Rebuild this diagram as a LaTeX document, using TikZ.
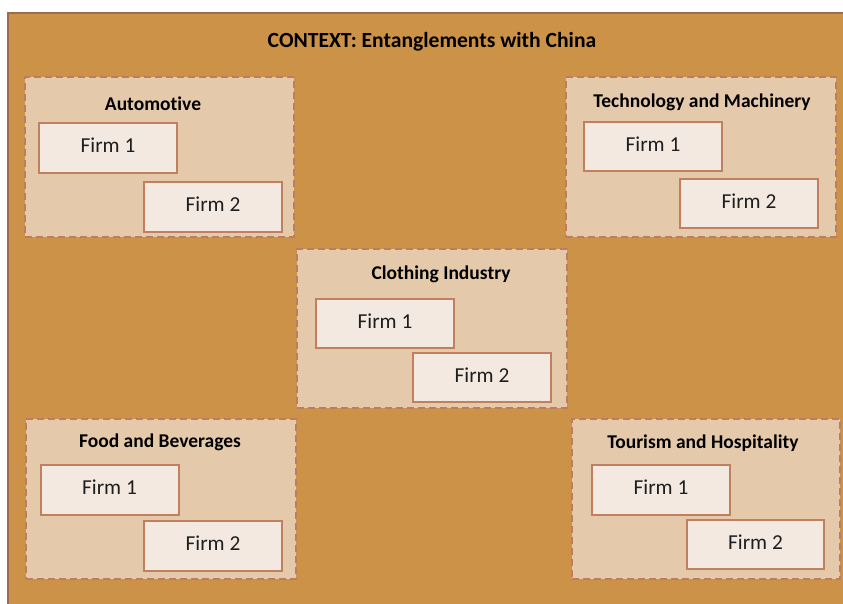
\documentclass[tikz,border=0pt]{standalone}
\usepackage{fontspec}
\setmainfont{Carlito}[Ligatures=NoCommon]
\definecolor{ctxfill}{HTML}{CC9248}
\definecolor{ctxline}{HTML}{A06A4E}
\definecolor{sectorfill}{HTML}{E5C9AB}
\definecolor{sectorline}{HTML}{BC7D62}
\definecolor{firmfill}{HTML}{F3E9E0}
\definecolor{firmline}{HTML}{C07F5E}
\definecolor{firmtext}{HTML}{1E1E1E}
\begin{document}
\begin{tikzpicture}[x=1pt,y=-1pt,
  sector/.style={draw=sectorline, fill=sectorfill, line width=2pt,
    dash pattern=on 7pt off 4pt, inner sep=0pt, minimum width=270pt, minimum height=160pt},
  firm/.style={draw=firmline, fill=firmfill, line width=2pt, inner sep=0pt,
    minimum width=138pt, minimum height=50pt, text=firmtext,
    text depth=0pt, text height=0pt, font=\fontsize{21.3}{24}\selectfont},
  sectortitle/.style={inner sep=0pt, text=black, font=\bfseries\fontsize{19.5}{22}\selectfont},
  headline/.style={inner sep=0pt, text=black, font=\bfseries\fontsize{21.6}{24}\selectfont}]
\newcommand{\firmlabel}[1]{\raisebox{-0.22em}{#1}}
\useasboundingbox (0,0) rectangle (843,603);
\clip (0,0) rectangle (843,603);
\fill[white] (0,0) rectangle (843,603);

% context frame
\draw[ctxline, fill=ctxfill, line width=2pt] (8,13) rectangle (860,620);
\node[headline] (title) at (432,42) {CONTEXT: Entanglements with China};

% sectors
\node[sector, minimum width=269pt] (auto) at (159.5,157) {};
\node[sector] (tech) at (701,157) {};
\node[sector, minimum height=159pt] (cloth) at (432,328.5) {};
\node[sector] (food) at (161,499) {};
\node[sector, minimum width=268pt] (tour) at (706,499) {};

\node[sectortitle] (autoT) at (153,104) {Automotive};
\node[sectortitle] (techT) at (702,102) {Technology and Machinery};
\node[sectortitle] (clothT) at (441,274) {Clothing Industry};
\node[sectortitle] (foodT) at (160,442) {Food and Beverages};
\node[sectortitle] (tourT) at (703,443) {Tourism and Hospitality};

% firms
\node[firm] (auto1) at (108,148) {\firmlabel{Firm 1}};
\node[firm] (auto2) at (213,207) {\firmlabel{Firm 2}};
\node[firm, minimum height=49pt] (tech1) at (653,146.5) {\firmlabel{Firm 1}};
\node[firm, minimum height=49pt] (tech2) at (749,203.5) {\firmlabel{Firm 2}};
\node[firm, minimum height=49pt] (cloth1) at (385,323.5) {\firmlabel{Firm 1}};
\node[firm, minimum height=49pt] (cloth2) at (482,377.5) {\firmlabel{Firm 2}};
\node[firm] (food1) at (109.5,490) {\firmlabel{Firm 1}};
\node[firm] (food2) at (213,546) {\firmlabel{Firm 2}};
\node[firm] (tour1) at (661,490) {\firmlabel{Firm 1}};
\node[firm, minimum width=137pt, minimum height=49pt] (tour2) at (755.5,544.5) {\firmlabel{Firm 2}};
\end{tikzpicture}
\end{document}
